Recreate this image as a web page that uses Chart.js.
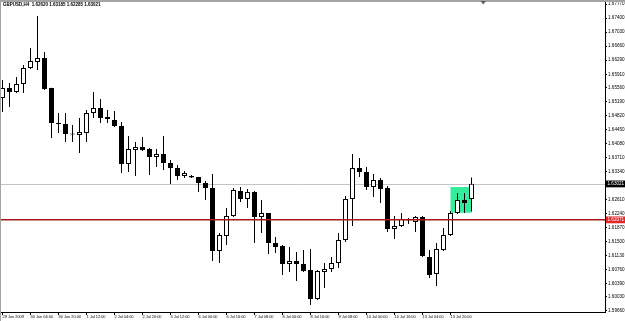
<!DOCTYPE html>
<html>
<head>
<meta charset="utf-8">
<script src="https://cdn.jsdelivr.net/npm/chart.js@4/dist/chart.umd.min.js"></script>
<style>
  html, body { margin: 0; padding: 0; background: #fff; }
  canvas { display: block; }
</style>
</head>
<body>
<canvas id="fxChart" width="625" height="321"></canvas>
<script>
// GBPUSD H4 candles, 29 Jun - 13 Jul 2009
const symbol = 'GBPUSD,H4';

const opens = [1.65286,1.65550,1.65445,1.65656,1.66079,1.66237,1.66343,1.65550,1.64625,1.64599,
  1.64335,1.64308,1.64361,1.64890,1.65022,1.64784,1.64705,1.64546,1.63542,1.63912,
  1.63991,1.63938,1.63727,1.63806,1.63568,1.63436,1.63225,1.63225,1.63198,1.63040,
  1.62908,1.61243,1.61639,1.62168,1.62828,1.62617,1.62802,1.62141,1.62247,1.61454,
  1.61375,1.60899,1.60979,1.60899,1.60741,1.59974,1.60688,1.60767,1.60926,1.61534,
  1.62617,1.63436,1.63330,1.62934,1.63119,1.62908,1.61824,1.61903,1.62062,1.62009,
  1.62141,1.61084,1.60635,1.61269,1.61666,1.62247,1.62590,1.62620];

const highs = [1.65762,1.65682,1.65841,1.66158,1.66607,1.67453,1.66502,1.65560,1.64890,1.64890,
  1.64573,1.64757,1.64969,1.65445,1.65260,1.64969,1.64942,1.64652,1.64282,1.64123,
  1.64255,1.63965,1.63938,1.64282,1.63648,1.63515,1.63357,1.63251,1.63200,1.63093,
  1.63278,1.61718,1.62379,1.62908,1.62934,1.62881,1.62828,1.62590,1.62250,1.61613,
  1.61401,1.61349,1.61216,1.61269,1.61296,1.60741,1.60926,1.61084,1.61718,1.62696,
  1.63806,1.63700,1.63463,1.63278,1.63172,1.62960,1.62168,1.62247,1.62115,1.62168,
  1.62168,1.61269,1.61454,1.61851,1.62300,1.62775,1.62775,1.63185];

const lows = [1.64916,1.65048,1.65418,1.65418,1.66052,1.66026,1.65497,1.64229,1.64361,1.64123,
  1.64123,1.63833,1.64123,1.64757,1.64625,1.64625,1.64520,1.63304,1.63330,1.63225,
  1.63885,1.63251,1.63463,1.63383,1.63013,1.63119,1.63172,1.63172,1.62802,1.62590,
  1.60979,1.60926,1.61401,1.62141,1.62538,1.62379,1.61454,1.61718,1.61164,1.61190,
  1.60609,1.60688,1.60450,1.60688,1.59816,1.59948,1.60265,1.60688,1.60794,1.61481,
  1.61903,1.63198,1.62855,1.62670,1.62511,1.61745,1.61560,1.61877,1.61956,1.61745,
  1.61084,1.60529,1.60318,1.61243,1.61639,1.62221,1.62247,1.62285];

const closes = [1.65550,1.65445,1.65656,1.66079,1.66264,1.66343,1.65524,1.64625,1.64599,1.64335,
  1.64322,1.64387,1.64890,1.65022,1.64757,1.64731,1.64546,1.63542,1.63938,1.63991,
  1.63912,1.63727,1.63806,1.63568,1.63436,1.63225,1.63304,1.63185,1.63040,1.62908,
  1.61243,1.61666,1.62168,1.62855,1.62617,1.62802,1.62141,1.62247,1.61454,1.61349,
  1.60899,1.60979,1.60899,1.60714,1.59974,1.60714,1.60767,1.60926,1.61534,1.62617,
  1.63436,1.63330,1.62934,1.63119,1.62881,1.61824,1.61903,1.62088,1.62049,1.62141,
  1.61111,1.60609,1.61296,1.61666,1.62247,1.62590,1.62511,1.63021];

// time axis: one label every 4 bars
const xTickBars = [0,4,8,12,16,20,24,28,32,36,40,44,48,52,56,60,64];
const xTickLabels = ['29 Jun 2009','30 Jun 04:00','30 Jun 20:00','1 Jul 12:00','2 Jul 04:00',
  '2 Jul 20:00','3 Jul 12:00','6 Jul 00:00','6 Jul 16:00','7 Jul 08:00','8 Jul 00:00',
  '8 Jul 16:00','9 Jul 08:00','10 Jul 00:00','10 Jul 16:00','13 Jul 04:00','13 Jul 20:00'];

const yTickLabels = ['1.67770','1.67400','1.67030','1.66660','1.66290','1.65910','1.65560',
  '1.65190','1.64820','1.64450','1.64080','1.63710','1.63340','1.62970','1.62610','1.62240',
  '1.61870','1.61500','1.61130','1.60760','1.60390','1.60030','1.59660'];
const yTickValues = yTickLabels.map(Number);

const bidPrice = 1.63021;
const levelPrice = 1.62071;
const boxBars = [64, 67];
const boxPrices = [1.62255, 1.62934];

const FONT = '"Liberation Sans", Arial, sans-serif';

const mtOverlay = {
  id: 'mtOverlay',
  beforeDraw(chart) {
    const c = chart.ctx;
    c.save();
    c.fillStyle = '#fff';
    c.fillRect(0, 0, chart.width, chart.height);
    c.restore();
  },
  beforeDatasetsDraw(chart) {
    const { ctx: c, scales: { x, y }, chartArea: a } = chart;
    c.save();
    // rectangle object
    const x0 = x.getPixelForValue(boxBars[0]), x1 = x.getPixelForValue(boxBars[1]);
    const y0 = y.getPixelForValue(boxPrices[1]), y1 = y.getPixelForValue(boxPrices[0]);
    c.fillStyle = '#35ec9c';
    c.fillRect(x0, y0, x1 - x0, y1 - y0);
    // bid line
    const yb = Math.round(y.getPixelForValue(bidPrice)) + 0.5;
    c.strokeStyle = '#c4c4c4';
    c.lineWidth = 1;
    c.beginPath(); c.moveTo(a.left, yb); c.lineTo(a.right, yb); c.stroke();
    c.restore();
  },
  afterDatasetsDraw(chart) {
    const { ctx: c, scales: { y }, chartArea: a } = chart;
    c.save();
    const yl = y.getPixelForValue(levelPrice);
    c.strokeStyle = '#a81818';
    c.lineWidth = 1.5;
    c.beginPath(); c.moveTo(a.left, yl); c.lineTo(a.right, yl); c.stroke();
    c.restore();
  },
  afterDraw(chart) {
    const { ctx: c, scales: { y }, chartArea: a } = chart;
    c.save();
    // price tags on the axis
    const tag = (price, bg) => {
      const py = y.getPixelForValue(price);
      c.fillStyle = bg;
      c.fillRect(a.right + 1, py - 3.2, chart.width - a.right, 6.8);
      c.fillStyle = '#fff';
      c.font = '4.6px ' + FONT;
      c.textBaseline = 'middle';
      c.fillText(price.toFixed(5), a.right + 2.5, py + 0.3);
    };
    tag(bidPrice, '#000');
    tag(levelPrice, '#e02828');

    // header line
    c.fillStyle = '#000';
    c.font = 'bold 4.5px ' + FONT;
    c.textBaseline = 'middle';
    const i = closes.length - 1;
    c.fillText(`${symbol}  ${opens[i].toFixed(5)} ${highs[i].toFixed(5)} ${lows[i].toFixed(5)} ${closes[i].toFixed(5)}`, 3, 5.2);

    // window frame
    c.fillStyle = '#a4a4a4';
    c.fillRect(0, 0, chart.width, 2);
    c.fillRect(0, 0, 1, chart.height);

    // chart shift marker
    c.fillStyle = '#606060';
    c.beginPath(); c.moveTo(480.5, 1); c.lineTo(486, 1); c.lineTo(483.2, 4.5); c.closePath(); c.fill();
    c.restore();
  }
};

const bodyData = opens.map((o, i) => ({ x: i, y: [o, closes[i]] }));
const wickData = lows.map((l, i) => ({ x: i, y: [l, highs[i]] }));

new Chart(document.getElementById('fxChart'), {
  type: 'bar',
  data: {
    datasets: [
      {
        label: 'body',
        data: bodyData,
        grouped: false,
        barThickness: 5,
        minBarLength: 1,
        borderWidth: 1,
        borderColor: '#000',
        borderSkipped: false,
        inflateAmount: 0,
        backgroundColor: c => closes[c.dataIndex] >= opens[c.dataIndex] ? '#fff' : '#000'
      },
      {
        label: 'wick',
        data: wickData,
        grouped: false,
        barThickness: 1,
        borderWidth: 0,
        inflateAmount: 0,
        backgroundColor: '#000'
      }
    ]
  },
  options: {
    responsive: false,
    animation: false,
    events: [],
    layout: { padding: { top: 2, left: 0, right: 0, bottom: 0 }, autoPadding: false },
    plugins: { legend: { display: false }, tooltip: { enabled: false } },
    scales: {
      x: {
        type: 'linear',
        offset: false,
        min: -0.3571,
        max: 86.0714,
        grid: { drawOnChartArea: false, drawTicks: true, tickLength: 3, color: '#000', offset: false },
        border: { display: true, color: '#000', width: 1 },
        ticks: {
          autoSkip: false, maxRotation: 0, minRotation: 0, align: 'start', padding: 0,
          color: '#000', font: { family: FONT, size: 3.9 },
          callback: v => { const k = xTickBars.indexOf(v); return k >= 0 ? xTickLabels[k] : ''; }
        },
        afterBuildTicks: s => { s.ticks = xTickBars.map(v => ({ value: v })); },
        afterFit: s => { s.height = 9; s.paddingLeft = 0; s.paddingRight = 0; }
      },
      y: {
        type: 'linear',
        position: 'right',
        min: 1.59631,
        max: 1.67823,
        grid: { drawOnChartArea: false, drawTicks: true, tickLength: 2, color: '#000' },
        border: { display: true, color: '#000', width: 1 },
        ticks: {
          padding: 1, color: '#000', font: { family: FONT, size: 4.6 },
          callback: (v, idx) => yTickLabels[idx]
        },
        afterBuildTicks: s => { s.ticks = yTickValues.map(v => ({ value: v })); },
        afterFit: s => { s.width = 20; s.paddingTop = 0; s.paddingBottom = 0; }
      }
    }
  },
  plugins: [mtOverlay]
});
</script>
</body>
</html>
